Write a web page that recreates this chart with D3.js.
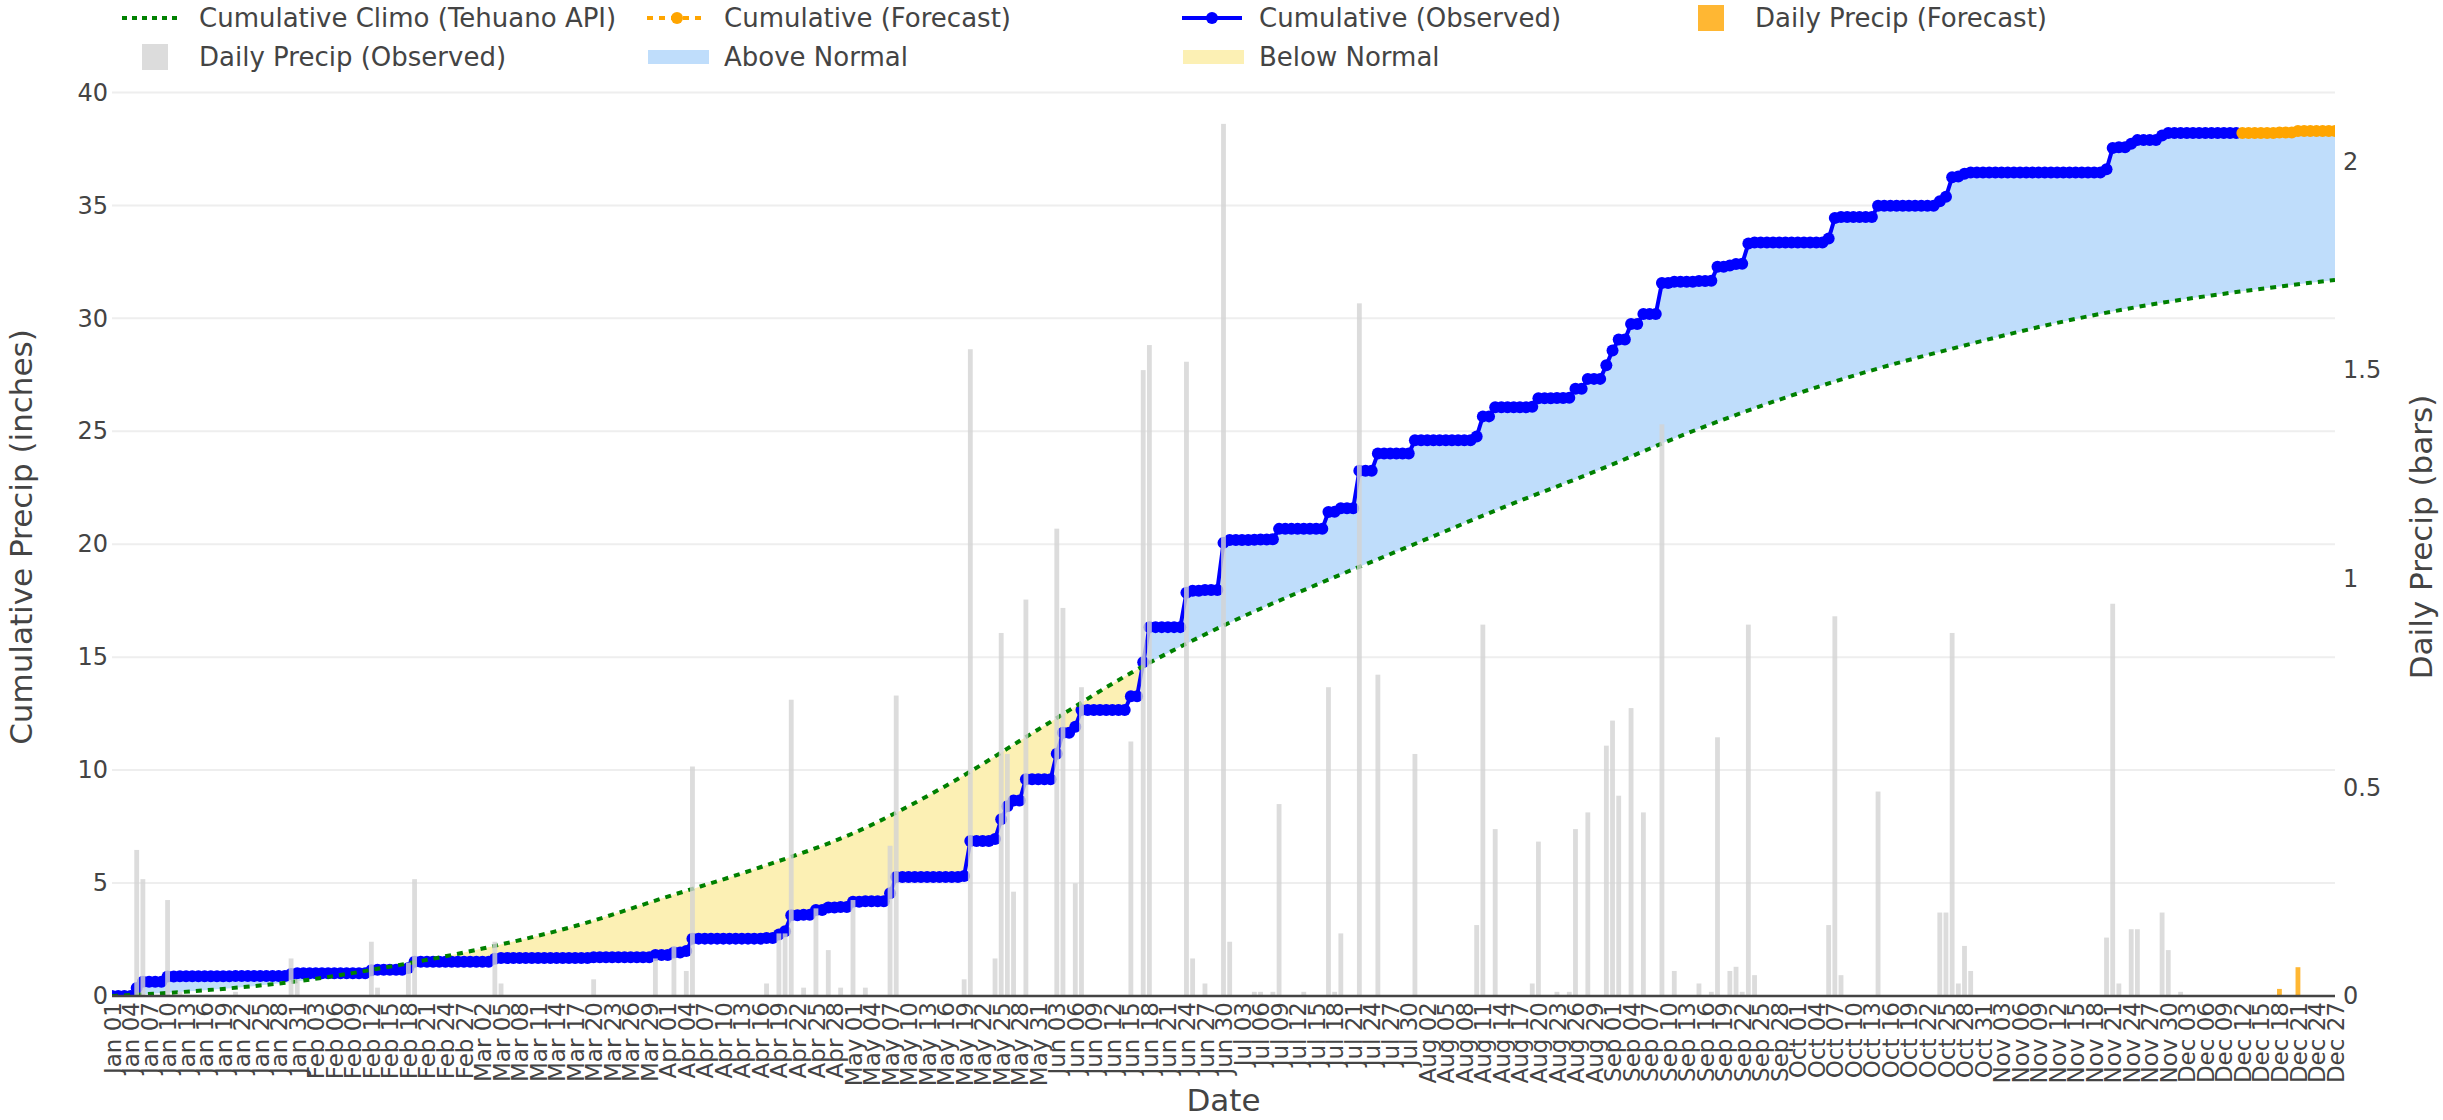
<!DOCTYPE html>
<html><head><meta charset="utf-8">
<script src="https://cdn.jsdelivr.net/npm/d3@7"></script>
<style>body{margin:0;background:#fff;} text{font-family:"DejaVu Sans",Verdana,sans-serif;fill:#444;}</style>
</head><body>
<svg id="chart" width="2443" height="1120"></svg>
<script>
// ---------------- DATA ----------------
const year = 2025;
const obsDates = ["01-05","01-06","01-10","01-12","01-21","01-30","01-31","02-12","02-13","02-18","02-19","03-04","03-05","03-20","03-30",
"04-02","04-04","04-05","04-17","04-19","04-20","04-21","04-23","04-25","04-27","04-29","05-01","05-03","05-07","05-08",
"05-19","05-20","05-24","05-25","05-26","05-27","05-29","06-03","06-04","06-06","06-07","06-15","06-17","06-18","06-24","06-25","06-27","06-30",
"07-01","07-05","07-06","07-08","07-09","07-13","07-17","07-18","07-19","07-22","07-25","07-31",
"08-10","08-11","08-13","08-19","08-20","08-23","08-25","08-26","08-28","08-31",
"09-01","09-02","09-04","09-06","09-09","09-11","09-15","09-17","09-18","09-20","09-21","09-22","09-23","09-24",
"10-06","10-07","10-08","10-14","10-24","10-25","10-26","10-27","10-28","10-29",
"11-20","11-21","11-22","11-24","11-25","11-29","11-30","12-02"];
const obsValues = [0.35,0.28,0.23,0.01,0.01,0.09,0.04,0.13,0.02,0.08,0.28,0.13,0.03,0.04,0.09,
0.12,0.06,0.55,0.03,0.15,0.15,0.71,0.02,0.21,0.11,0.02,0.23,0.02,0.36,0.72,
0.04,1.55,0.09,0.87,0.58,0.25,0.95,1.12,0.93,0.27,0.74,0.61,1.50,1.56,1.52,0.09,0.03,2.09,
0.13,0.01,0.01,0.01,0.46,0.01,0.74,0.01,0.15,1.66,0.77,0.58,
0.17,0.89,0.40,0.03,0.37,0.01,0.01,0.40,0.44,0.60,
0.66,0.48,0.69,0.44,1.37,0.06,0.03,0.01,0.62,0.06,0.07,0.01,0.89,0.05,
0.17,0.91,0.05,0.49,0.20,0.20,0.87,0.03,0.12,0.06,
0.14,0.94,0.03,0.16,0.16,0.20,0.11,0.01];
const obsStart = "01-01";
const obsEnd = "12-11";
const fcstDates = ["12-18","12-21"];
const fcstValues = [0.017,0.069];
const fcstEnd = "12-27";
const climoDates = ["01-01","01-16","01-31","02-15","03-02","03-17","04-01","04-16","05-01","05-16","05-31","06-15","06-30",
"07-15","07-30","08-14","08-29","09-13","09-28","10-13","10-28","11-12","11-27","12-12","12-27"];
const climoValues = [0,0.25,0.65,1.3,2.1,3.1,4.4,5.7,7.2,9.3,11.8,14.3,16.4,18.2,19.9,21.6,23.2,24.9,26.4,27.7,28.8,29.8,30.6,31.2,31.7];
const leftTicks = [0,5,10,15,20,25,30,35,40];
const rightTicks = [0,0.5,1,1.5,2];
const legendItems = [
  {label:"Cumulative Climo (Tehuano API)", kind:"dot"},
  {label:"Cumulative (Forecast)", kind:"fcline"},
  {label:"Cumulative (Observed)", kind:"obsline"},
  {label:"Daily Precip (Forecast)", kind:"fcbar"},
  {label:"Daily Precip (Observed)", kind:"obsbar"},
  {label:"Above Normal", kind:"above"},
  {label:"Below Normal", kind:"below"}
];

// ---------------- SETUP ----------------
const P = s => d3.utcParse("%Y-%m-%d")(year + "-" + s);
const key = d3.utcFormat("%m-%d");
const L = 112, R = 2335, T = 78, B = 996;
const svg = d3.select("#chart");
const start = P(obsStart), end = P(fcstEnd);
const x = d3.scaleUtc().domain([start, end]).range([L, R]);
const yL = d3.scaleLinear().domain([0, 40.64]).range([B, T]);
const yR = d3.scaleLinear().domain([0, 2.2]).range([B, T]);
const dayPx = x(d3.utcDay.offset(start, 1)) - x(start);
const bw = dayPx * 0.78;

const COL = {green:"#008000", orange:"#FFA500", blue:"#0000FF", grey:"#D3D3D3",
  fillBlue:"#BFDDFB", fillYellow:"#FCF0B4"};

const obsMap = new Map(obsDates.map((d,i)=>[d, obsValues[i]]));
const fcMap = new Map(fcstDates.map((d,i)=>[d, fcstValues[i]]));
let run = 0;
const obsCum = d3.utcDay.range(start, d3.utcDay.offset(P(obsEnd),1)).map(d => {run += obsMap.get(key(d)) || 0; return {date:d, v:run};});
const fcCum = d3.utcDay.range(d3.utcDay.offset(P(obsEnd),1), d3.utcDay.offset(end,1)).map(d => {run += fcMap.get(key(d)) || 0; return {date:d, v:run};});
const allCum = obsCum.concat(fcCum);
const climo = climoDates.map((d,i)=>({date:P(d), v:climoValues[i]}));
const obsBars = obsDates.map((d,i)=>({date:P(d), v:obsValues[i]}));
const fcBars = fcstDates.map((d,i)=>({date:P(d), v:fcstValues[i]}));

const defs = svg.append("defs");
defs.append("clipPath").attr("id","plotclip").append("rect").attr("x",L).attr("y",T).attr("width",R-L).attr("height",B-T);
const lineGen = d3.line().x(d=>x(d.date)).y(d=>yL(d.v));
const obsPath = lineGen(allCum);
defs.append("clipPath").attr("id","belowObs").append("path")
  .attr("d", obsPath + `L${R},${B}L${L},${B}Z`);
defs.append("clipPath").attr("id","aboveObs").append("path")
  .attr("d", obsPath + `L${R},${T-50}L${L},${T-50}Z`);

// gridlines
svg.append("g").selectAll("line").data(leftTicks.filter(t=>t>0)).join("line")
  .attr("x1",L).attr("x2",R).attr("y1",d=>yL(d)).attr("y2",d=>yL(d))
  .attr("stroke","#eeeeee").attr("stroke-width",2);

const plot = svg.append("g").attr("clip-path","url(#plotclip)");
// fills
const climoCurve = d3.curveMonotoneX;
plot.append("path").attr("clip-path","url(#belowObs)")
  .attr("d", d3.area().x(d=>x(d.date)).y0(T-50).y1(d=>yL(d.v)).curve(climoCurve)(climo))
  .attr("fill", COL.fillBlue);
plot.append("path").attr("clip-path","url(#aboveObs)")
  .attr("d", d3.area().x(d=>x(d.date)).y0(B).y1(d=>yL(d.v)).curve(climoCurve)(climo))
  .attr("fill", COL.fillYellow);

// observed line + markers
plot.append("path").attr("d", lineGen(obsCum)).attr("fill","none").attr("stroke",COL.blue).attr("stroke-width",4);
plot.append("g").selectAll("circle").data(obsCum).join("circle")
  .attr("cx",d=>x(d.date)).attr("cy",d=>yL(d.v)).attr("r",6).attr("fill",COL.blue);
// forecast line + markers
plot.append("path").attr("d", lineGen(fcCum)).attr("fill","none").attr("stroke",COL.orange).attr("stroke-width",4).attr("stroke-dasharray","12,12");
plot.append("g").selectAll("circle").data(fcCum).join("circle")
  .attr("cx",d=>x(d.date)).attr("cy",d=>yL(d.v)).attr("r",6).attr("fill",COL.orange);
// climo line
plot.append("path").attr("d", d3.line().x(d=>x(d.date)).y(d=>yL(d.v)).curve(climoCurve)(climo))
  .attr("fill","none").attr("stroke",COL.green).attr("stroke-width",4).attr("stroke-dasharray","6,6");

// bars (secondary axis)
plot.append("g").selectAll("rect").data(obsBars).join("rect")
  .attr("x",d=>x(d.date)-bw/2).attr("width",bw).attr("y",d=>yR(d.v)).attr("height",d=>B-yR(d.v))
  .attr("fill",COL.grey).attr("fill-opacity",0.8);
plot.append("g").selectAll("rect").data(fcBars).join("rect")
  .attr("x",d=>x(d.date)-bw/2).attr("width",bw).attr("y",d=>yR(d.v)).attr("height",d=>B-yR(d.v))
  .attr("fill",COL.orange).attr("fill-opacity",0.8);

// zero line
svg.append("line").attr("x1",L).attr("x2",R).attr("y1",B).attr("y2",B).attr("stroke","#444").attr("stroke-width",2.5);

// axes
const axL = d3.axisLeft(yL).tickValues(leftTicks).tickSize(0).tickPadding(4);
const gL = svg.append("g").attr("transform",`translate(${L},0)`).call(axL);
const axR = d3.axisRight(yR).tickValues(rightTicks).tickSize(0).tickPadding(8).tickFormat(d3.format("~g"));
const gR = svg.append("g").attr("transform",`translate(${R},0)`).call(axR);
const xTicks = d3.utcDay.range(start, d3.utcDay.offset(end,1), 3);
const axX = d3.axisBottom(x).tickValues(xTicks).tickSize(0).tickFormat(d3.utcFormat("%b %d"));
const gX = svg.append("g").attr("transform",`translate(0,${B})`).call(axX);
gX.selectAll("text").attr("transform","rotate(-90)").attr("text-anchor","end")
  .attr("x",-6).attr("y",0).attr("dy","0.35em");
[gL,gR,gX].forEach(g=>{g.select(".domain").remove(); g.selectAll("text").style("font-size","24px").attr("fill","#444");});
gX.selectAll("text").style("font-size","23px");

// axis titles
svg.append("text").attr("transform",`translate(21,${(T+B)/2}) rotate(-90)`).attr("text-anchor","middle")
  .attr("dy","0.35em").style("font-size","31px").text("Cumulative Precip (inches)");
svg.append("text").attr("transform",`translate(2421,${(T+B)/2}) rotate(-90)`).attr("text-anchor","middle")
  .attr("dy","0.35em").style("font-size","31px").text("Daily Precip (bars)");
svg.append("text").attr("x",(L+R)/2).attr("y",1100).attr("text-anchor","middle").attr("dy","0.35em")
  .style("font-size","31px").text("Date");

// legend
const colX = [199, 724, 1259, 1755];
const rowY = [18, 57];
const lg = svg.append("g");
legendItems.forEach((it,i)=>{
  const tx = colX[i%4], cy = rowY[Math.floor(i/4)];
  const g = lg.append("g");
  if (it.kind==="dot") {
    g.append("line").attr("x1",tx-77).attr("x2",tx-17).attr("y1",cy).attr("y2",cy)
      .attr("stroke",COL.green).attr("stroke-width",4).attr("stroke-dasharray","5,5");
  } else if (it.kind==="fcline" || it.kind==="obsline") {
    const c = it.kind==="fcline" ? COL.orange : COL.blue;
    g.append("line").attr("x1",tx-77).attr("x2",tx-17).attr("y1",cy).attr("y2",cy)
      .attr("stroke",c).attr("stroke-width",4).attr("stroke-dasharray", it.kind==="fcline"?"6,6":null);
    g.append("circle").attr("cx",tx-47).attr("cy",cy).attr("r",6).attr("fill",c);
  } else if (it.kind==="fcbar" || it.kind==="obsbar") {
    g.append("rect").attr("x",tx-57).attr("y",cy-13).attr("width",26).attr("height",26)
      .attr("fill", it.kind==="fcbar"?COL.orange:COL.grey).attr("fill-opacity",0.8);
  } else {
    g.append("rect").attr("x",tx-76).attr("y",cy-7).attr("width",61).attr("height",14)
      .attr("fill", it.kind==="above"?COL.fillBlue:COL.fillYellow);
  }
  g.append("text").attr("x",tx).attr("y",cy).attr("dy","0.35em").style("font-size","26px").text(it.label);
});
</script>
</body></html>
